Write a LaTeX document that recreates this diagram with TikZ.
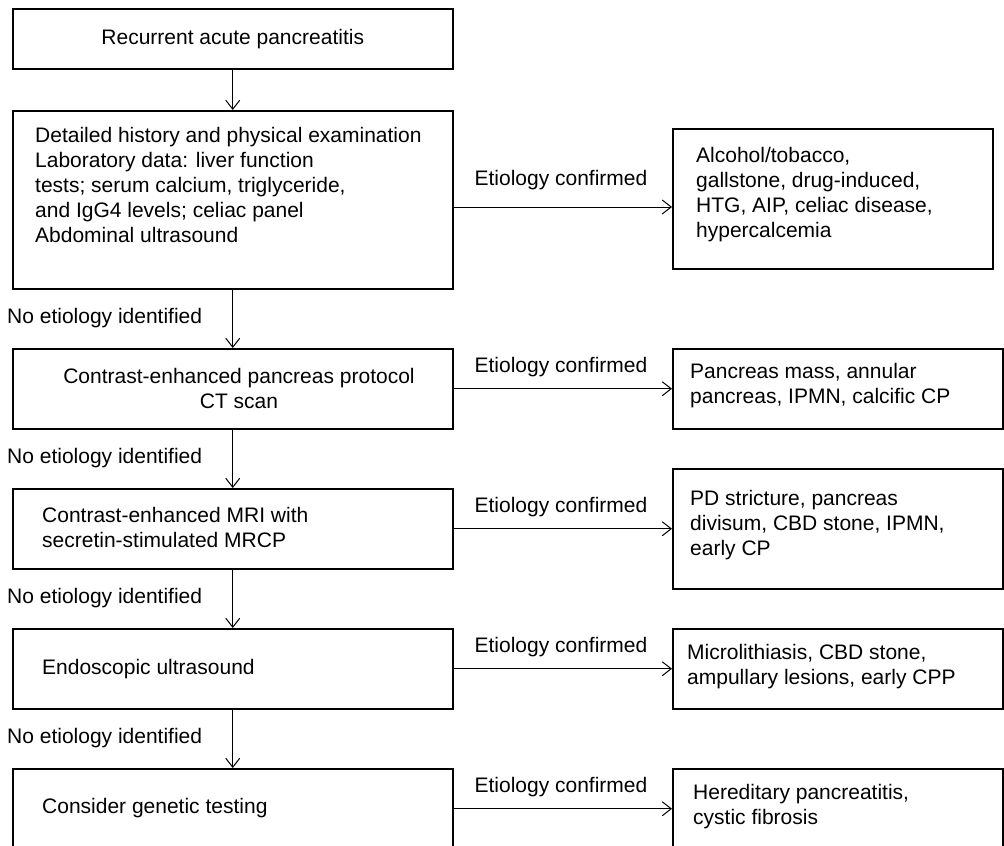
\documentclass[tikz,border=0pt]{standalone}
\usepackage{fontspec}
\setmainfont{Liberation Sans}
\usetikzlibrary{arrows.meta}
\begin{document}
\begin{tikzpicture}[x=1pt,y=-1pt,
  box/.style={draw, line width=1.5pt, inner sep=0pt, anchor=north west},
  lbox/.style={box, minimum width=440pt},
  txt/.style={inner sep=0pt, font=\fontsize{21}{25}\selectfont, align=left},
  arr/.style={-{Straight Barb[length=9pt,width=14pt]}, line width=1pt},
  lab/.style={inner sep=0pt, font=\fontsize{21}{25}\selectfont}]
\useasboundingbox (0,0) rectangle (1004,846);
% left column boxes
\node[lbox, minimum height=60pt, font=\fontsize{21}{25}\selectfont] (b1) at (12,8) {Recurrent acute pancreatitis};
\node[lbox, minimum height=178pt] (b2) at (12,110) {};
\node[lbox, minimum height=80pt] (b3) at (12,348) {};
\node[lbox, minimum height=80pt] (b4) at (12,488) {};
\node[lbox, minimum height=80pt] (b5) at (12,628) {};
\node[lbox, minimum height=80pt] (b6) at (12,768) {};
% left texts
\node[txt, anchor=north west] (t2) at (35,127) {Detailed history and physical examination\\Laboratory data: liver function\\tests; serum calcium, triglyceride,\\and IgG4 levels; celiac panel\\Abdominal ultrasound};
\node[txt, align=center] (t3) at (239,388) {Contrast-enhanced pancreas protocol\\CT scan};
\node[txt, anchor=west] (t4) at (42,527) {Contrast-enhanced MRI with\\secretin-stimulated MRCP};
\node[txt, anchor=west] (t5) at (42,669) {Endoscopic ultrasound};
\node[txt, anchor=west] (t6) at (42,808) {Consider genetic testing};
% right boxes
\node[box, minimum width=320pt, minimum height=140pt] (r1) at (672,128) {};
\node[box, minimum width=330pt, minimum height=80pt] (r2) at (672,348) {};
\node[box, minimum width=330pt, minimum height=120pt] (r3) at (672,468) {};
\node[box, minimum width=330pt, minimum height=80pt] (r4) at (672,628) {};
\node[box, minimum width=330pt, minimum height=80pt] (r5) at (672,768) {};
% right texts
\node[txt, anchor=north west] (s1) at (696,147) {Alcohol/tobacco,\\gallstone, drug-induced,\\HTG, AIP, celiac disease,\\hypercalcemia};
\node[txt, anchor=west] (s2) at (690,386) {Pancreas mass, annular\\pancreas, IPMN, calcific CP};
\node[txt, anchor=north west] (s3) at (690,490) {PD stricture, pancreas\\divisum, CBD stone, IPMN,\\early CP};
\node[txt, anchor=west] (s4) at (687,667) {Microlithiasis, CBD stone,\\ampullary lesions, early CPP};
\node[txt, anchor=west] (s5) at (693,807) {Hereditary pancreatitis,\\cystic fibrosis};
% vertical connectors
\draw[arr] (b1) -- (b2);
\draw[arr] (b2) -- (b3);
\draw[arr] (b3) -- (b4);
\draw[arr] (b4) -- (b5);
\draw[arr] (b5) -- (b6);
% no etiology labels
\node[lab, anchor=west] (n1) at (7,318) {No etiology identified};
\node[lab, anchor=west] (n2) at (7,458) {No etiology identified};
\node[lab, anchor=west] (n3) at (7,598) {No etiology identified};
\node[lab, anchor=west] (n4) at (7,738) {No etiology identified};
% horizontal connectors
\coordinate (h1) at (0,207);
\draw[arr] (b2.east |- h1) -- (r1.west |- h1);
\draw[arr] (b3.east) -- (b3.east -| r2.west);
\draw[arr] (b4.east) -- (b4.east -| r3.west);
\draw[arr] (b5.east) -- (b5.east -| r4.west);
\draw[arr] (b6.east) -- (b6.east -| r5.west);
% etiology confirmed labels
\node[lab] (e1) at (561,180) {Etiology confirmed};
\node[lab] (e2) at (561,367) {Etiology confirmed};
\node[lab] (e3) at (561,507) {Etiology confirmed};
\node[lab] (e4) at (561,647) {Etiology confirmed};
\node[lab] (e5) at (561,787) {Etiology confirmed};
\end{tikzpicture}
\end{document}
